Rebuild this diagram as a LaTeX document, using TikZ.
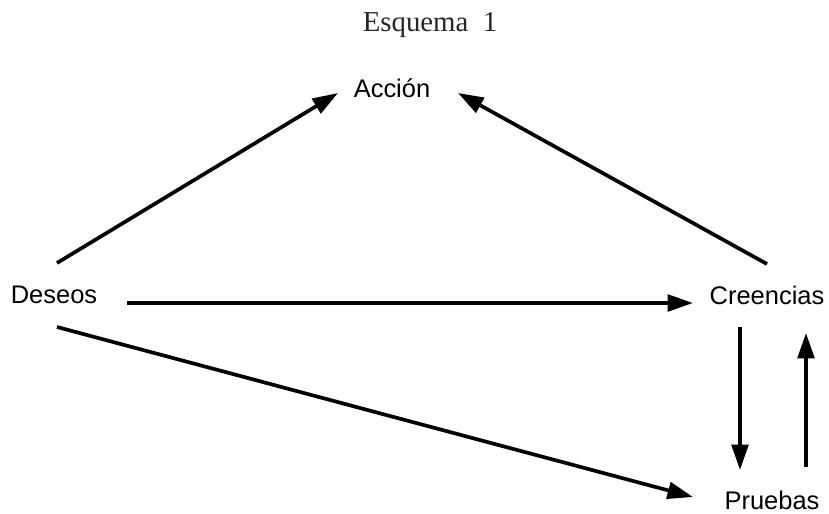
\documentclass[tikz,border=0pt]{standalone}
\usepackage{fontspec}
\setmainfont{Liberation Serif}
\setsansfont{Liberation Sans}
\usetikzlibrary{arrows.meta}

\begin{document}
\begin{tikzpicture}[x=0.02cm, y=-0.02cm,
		caja/.style={font=\sffamily\fontsize{14.5}{17}\selectfont, inner sep=0pt},
		flecha/.style={line width=2.1pt, -{Triangle[length=14.5pt, width=9.5pt]}}]
		%%%%% START %%%%%
		
		\useasboundingbox (0, 0) rectangle (829, 514);
		
		\node[font=\fontsize{16.4}{19}\selectfont, color=black!85] (titulo) at (430, 25) {Esquema\ \ 1};
		
		\node[caja] (accion) at (392, 88) {Acción};
		\node[caja] (deseos) at (54, 295) {Deseos};
		\node[caja] (creencias) at (767, 295) {Creencias};
		\node[caja] (pruebas) at (772, 500) {Pruebas};
		
		\draw[flecha] ([shift={(3, -32)}]deseos.center) -- ([shift={(-54, 5)}]accion.center);
		\draw[flecha] ([shift={(0, -31)}]creencias.center) -- ([shift={(66, 5)}]accion.center);
		\draw[flecha] ([shift={(73, 8)}]deseos.center) -- ([shift={(-74, 8)}]creencias.center);
		\draw[flecha] ([shift={(3, 32)}]deseos.center) -- ([shift={(-79, -3)}]pruebas.center);
		
		\draw[flecha] ([shift={(-27, 32)}]creencias.center) -- ([shift={(-32, -30)}]pruebas.center);
		\draw[flecha] ([shift={(34, -33)}]pruebas.center) -- ([shift={(39, 38)}]creencias.center);
		
		%%%%% END %%%%%
\end{tikzpicture}
\end{document}
